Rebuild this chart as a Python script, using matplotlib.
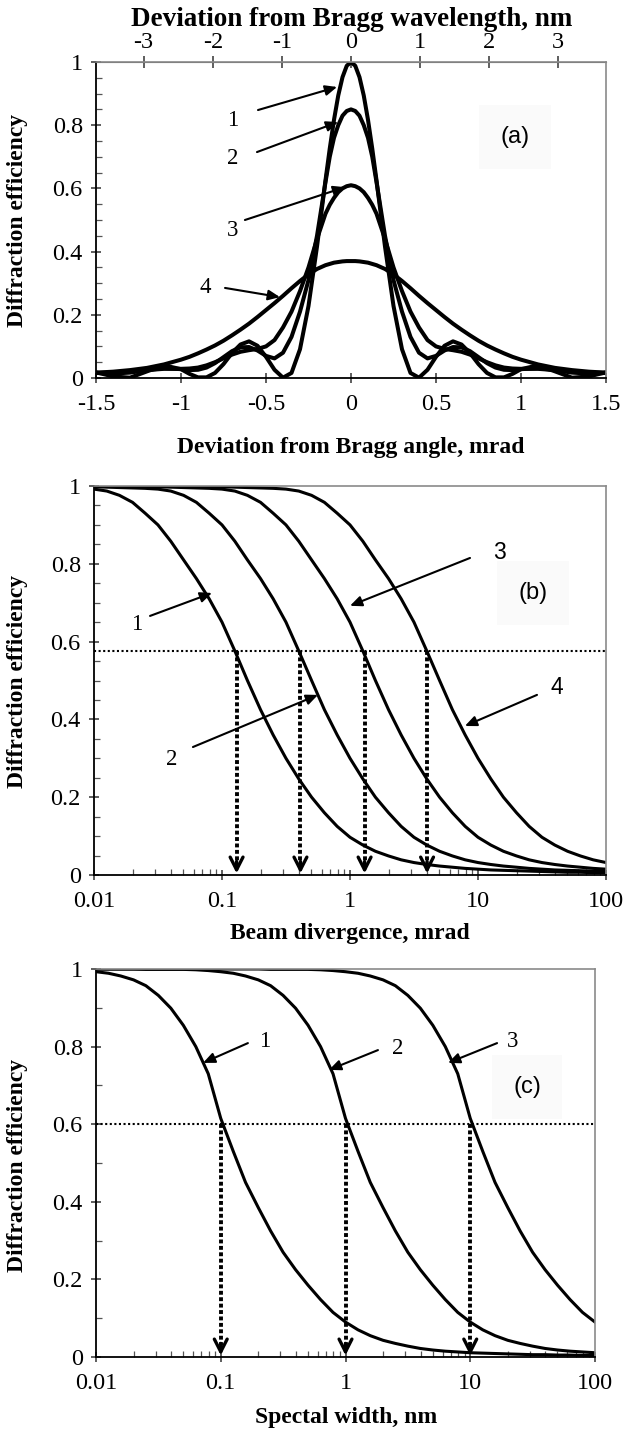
import numpy as np
import matplotlib
matplotlib.use('Agg')
import matplotlib.pyplot as plt
from matplotlib.ticker import FixedLocator, NullFormatter, LogLocator

plt.rcParams['font.family'] = ['Liberation Serif', 'DejaVu Serif']

# ---------------- data ----------------
# panel (a): angular selectivity, deviation from Bragg angle (mrad)
angle_mrad = [-1.5, -1.4, -1.3, -1.2, -1.1, -1.0, -0.95, -0.9, -0.85, -0.8, -0.75, -0.7, -0.65,
              -0.6, -0.55, -0.5, -0.45, -0.4, -0.35, -0.3, -0.25, -0.2, -0.175, -0.15, -0.125,
              -0.1, -0.075, -0.05, -0.025, 0.0,
              0.025, 0.05, 0.075, 0.1, 0.125, 0.15, 0.175, 0.2, 0.25, 0.3, 0.35, 0.4, 0.45, 0.5,
              0.55, 0.6, 0.65, 0.7, 0.75, 0.8, 0.85, 0.9, 0.95, 1.0, 1.1, 1.2, 1.3, 1.4, 1.5]
eff_a1 = [0.018, 0.005, 0.001, 0.021, 0.040, 0.028, 0.013, 0.002, 0.002, 0.016, 0.044, 0.079, 0.106,
          0.116, 0.102, 0.067, 0.026, 0.001, 0.016, 0.091, 0.228, 0.416, 0.520, 0.626, 0.726,
          0.817, 0.894, 0.952, 0.988, 1.0,
          0.988, 0.952, 0.894, 0.817, 0.726, 0.626, 0.520, 0.416, 0.228, 0.091, 0.016, 0.001,
          0.026, 0.067, 0.102, 0.116, 0.106, 0.079, 0.044, 0.016, 0.002, 0.002, 0.013, 0.028,
          0.040, 0.021, 0.001, 0.005, 0.018]
eff_a2 = [0.016, 0.014, 0.017, 0.025, 0.031, 0.028, 0.025, 0.026, 0.033, 0.047, 0.066, 0.085, 0.097,
          0.098, 0.087, 0.07, 0.062, 0.08, 0.13, 0.21, 0.31, 0.45, 0.535, 0.62, 0.70,
          0.76, 0.80, 0.83, 0.845, 0.85,
          0.845, 0.83, 0.80, 0.76, 0.70, 0.62, 0.535, 0.45, 0.31, 0.21, 0.13, 0.08, 0.062, 0.07,
          0.087, 0.098, 0.097, 0.085, 0.066, 0.047, 0.033, 0.026, 0.025, 0.028, 0.031, 0.025,
          0.017, 0.014, 0.016]
eff_a3 = [0.016, 0.017, 0.02, 0.025, 0.029, 0.029, 0.03, 0.033, 0.04, 0.05, 0.062, 0.074, 0.083,
          0.088, 0.092, 0.10, 0.12, 0.16, 0.21, 0.275, 0.35, 0.44, 0.48, 0.52, 0.548,
          0.57, 0.588, 0.60, 0.607, 0.61,
          0.607, 0.60, 0.588, 0.57, 0.548, 0.52, 0.48, 0.44, 0.35, 0.275, 0.21, 0.16, 0.12, 0.10,
          0.092, 0.088, 0.083, 0.074, 0.062, 0.05, 0.04, 0.033, 0.03, 0.029, 0.029, 0.025, 0.02,
          0.017, 0.016]
eff_a4 = [0.017, 0.02, 0.025, 0.032, 0.043, 0.058, 0.067, 0.078, 0.09, 0.103, 0.118, 0.135, 0.153,
          0.172, 0.193, 0.215, 0.237, 0.26, 0.284, 0.307, 0.328, 0.345, 0.351, 0.357, 0.361,
          0.365, 0.367, 0.369, 0.370, 0.37,
          0.370, 0.369, 0.367, 0.365, 0.361, 0.357, 0.351, 0.345, 0.328, 0.307, 0.284, 0.26,
          0.237, 0.215, 0.193, 0.172, 0.153, 0.135, 0.118, 0.103, 0.09, 0.078, 0.067, 0.058,
          0.043, 0.032, 0.025, 0.02, 0.017]
top_ticks_nm = [-3, -2, -1, 0, 1, 2, 3]
nm_per_mrad = 2.46

# common log grid for panels (b) and (c)
x_log = [0.01, 0.0126, 0.0158, 0.02, 0.0251, 0.0316, 0.0398, 0.0501, 0.0631, 0.0794,
         0.1, 0.126, 0.158, 0.2, 0.251, 0.316, 0.398, 0.501, 0.631, 0.794,
         1.0, 1.26, 1.58, 2.0, 2.51, 3.16, 3.98, 5.01, 6.31, 7.94,
         10.0, 12.6, 15.8, 20.0, 25.1, 31.6, 39.8, 50.1, 63.1, 79.4, 100.0]

# panel (b): beam divergence (mrad)
eff_b1 = [0.992, 0.987, 0.976, 0.958, 0.93, 0.90, 0.858, 0.81, 0.762, 0.71, 0.65, 0.576, 0.50, 0.425,
          0.36, 0.30, 0.247, 0.20, 0.16, 0.125, 0.097, 0.077, 0.061, 0.049, 0.039, 0.032, 0.027,
          0.023, 0.020, 0.017, 0.015, 0.013, 0.012, 0.011, 0.010, 0.009, 0.008, 0.007, 0.007,
          0.006, 0.006]
eff_b2 = [0.998, 0.997, 0.996, 0.995, 0.994, 0.992, 0.987, 0.976, 0.958, 0.93, 0.90, 0.858, 0.81,
          0.762, 0.71, 0.65, 0.576, 0.50, 0.425, 0.36, 0.30, 0.247, 0.20, 0.16, 0.125, 0.097,
          0.077, 0.061, 0.049, 0.039, 0.032, 0.027, 0.023, 0.020, 0.017, 0.015, 0.013, 0.012,
          0.011, 0.010, 0.009]
eff_b3 = [1.0, 1.0, 0.999, 0.999, 0.998, 0.998, 0.997, 0.996, 0.995, 0.994, 0.992, 0.987, 0.976,
          0.958, 0.93, 0.90, 0.858, 0.81, 0.762, 0.71, 0.65, 0.576, 0.50, 0.425, 0.36, 0.30,
          0.247, 0.20, 0.16, 0.125, 0.097, 0.077, 0.061, 0.049, 0.039, 0.032, 0.027, 0.023,
          0.020, 0.017, 0.015]
eff_b4 = [1.0, 1.0, 1.0, 1.0, 1.0, 1.0, 1.0, 0.999, 0.999, 0.998, 0.998, 0.997, 0.996, 0.995,
          0.994, 0.992, 0.987, 0.976, 0.958, 0.93, 0.90, 0.858, 0.81, 0.762, 0.71, 0.65, 0.576,
          0.50, 0.425, 0.36, 0.30, 0.247, 0.20, 0.16, 0.125, 0.097, 0.077, 0.061, 0.049, 0.039,
          0.032]
level_b = 0.576
marks_b = [0.13, 0.41, 1.3, 4.0]

# panel (c): spectral width (nm)
eff_c1 = [0.993, 0.989, 0.982, 0.972, 0.957, 0.932, 0.899, 0.855, 0.80, 0.73, 0.615, 0.53, 0.45,
          0.385, 0.325, 0.27, 0.225, 0.185, 0.148, 0.115, 0.09, 0.07, 0.055, 0.043, 0.035, 0.028,
          0.022, 0.018, 0.015, 0.013, 0.011, 0.010, 0.009, 0.008, 0.007, 0.006, 0.006, 0.005,
          0.005, 0.004, 0.004]
eff_c2 = [1.0, 1.0, 1.0, 1.0, 0.999, 0.999, 0.999, 0.999, 0.998, 0.996, 0.993, 0.989, 0.982,
          0.972, 0.957, 0.932, 0.899, 0.855, 0.80, 0.73, 0.615, 0.53, 0.45, 0.385, 0.325, 0.27,
          0.225, 0.185, 0.148, 0.115, 0.09, 0.07, 0.055, 0.043, 0.035, 0.028, 0.022, 0.018,
          0.015, 0.013, 0.011]
eff_c3 = [1.0, 1.0, 1.0, 1.0, 1.0, 1.0, 1.0, 1.0, 1.0, 1.0, 1.0, 1.0, 1.0, 1.0, 0.999, 0.999,
          0.999, 0.999, 0.998, 0.996, 0.993, 0.989, 0.982, 0.972, 0.957, 0.932, 0.899, 0.855,
          0.80, 0.73, 0.615, 0.53, 0.45, 0.385, 0.325, 0.27, 0.225, 0.185, 0.148, 0.115, 0.09]
level_c = 0.6
marks_c = [0.1, 1.0, 10.0]

y_ticks = [0, 0.2, 0.4, 0.6, 0.8, 1.0]
y_ticklabels = ['0', '0.2', '0.4', '0.6', '0.8', '1']
xa_ticks = [-1.5, -1, -0.5, 0, 0.5, 1, 1.5]
xa_ticklabels = ['-1.5', '-1', '-0.5', '0', '0.5', '1', '1.5']
xlog_ticks = [0.01, 0.1, 1, 10, 100]
xlog_ticklabels = ['0.01', '0.1', '1', '10', '100']

# ---------------- figure ----------------
W, H = 625, 1434
fig = plt.figure(figsize=(W / 100, H / 100), dpi=100)
SANS = 'Liberation Sans'
TICK_FS = 17.5
LAB_FS = 17


def axes_px(l, t, r, b):
    return fig.add_axes([l / W, 1 - b / H, (r - l) / W, (b - t) / H])


def style(ax, yminor):
    for s in ['left', 'bottom']:
        ax.spines[s].set_color('black')
        ax.spines[s].set_linewidth(1.3)
    for s in ['top', 'right']:
        ax.spines[s].set_color('#8a8a8a')
        ax.spines[s].set_linewidth(1.2)
    ax.set_ylim(0, 1)
    ax.yaxis.set_major_locator(FixedLocator(y_ticks))
    ax.set_yticklabels(y_ticklabels)
    ax.yaxis.set_minor_locator(FixedLocator(list(np.arange(0, 1.0001, yminor))))
    ax.tick_params(which='major', direction='inout', length=7, width=1.1,
                   labelsize=TICK_FS, top=False, right=False, color='#333333')
    ax.tick_params(which='minor', direction='in', length=4, width=0.9,
                   top=False, right=False, color='#555555')
    ax.tick_params(axis='x', which='major', pad=8)
    ax.tick_params(axis='y', which='major', pad=6)


def label_arrow(ax, txt, txt_xy, start, tip, family=None, fs=16.5):
    kw = {}
    if family:
        kw['family'] = family
    ax.text(txt_xy[0], txt_xy[1], txt, ha='center', va='center', fontsize=fs, **kw)
    ax.annotate('', xy=tip, xytext=start,
                arrowprops=dict(arrowstyle='-|>,head_length=0.5,head_width=0.22',
                                lw=1.5, color='k', shrinkA=0, shrinkB=0, mutation_scale=14))


def drop_arrows(ax, xs, level):
    ax.axhline(level, color='k', lw=1.5, ls=(0, (1, 1.2)))
    for x in xs:
        ax.plot([x, x], [level, 0.03], color='k', lw=2.8, ls=(0, (1, 0.65)))
        ax.annotate('', xy=(x, 0.004), xytext=(x, 0.035),
                    arrowprops=dict(arrowstyle='->,head_length=0.65,head_width=0.33',
                                    lw=2.4, color='k', shrinkA=0, shrinkB=0, mutation_scale=14))


def panel_tag(ax, txt, x, y):
    ax.text(x, y, txt, ha='center', va='center', family=SANS, fontsize=17,
            bbox=dict(boxstyle='square,pad=0.9', fc='#fafafa', ec='none'))


# ----- panel (a) -----
axa = axes_px(96, 62, 606, 378)
style(axa, 0.05)
for y in (eff_a4, eff_a3, eff_a2, eff_a1):
    axa.plot(angle_mrad, y, color='k', lw=2.9, solid_joinstyle='round')
axa.set_xlim(-1.5, 1.5)
axa.xaxis.set_major_locator(FixedLocator(xa_ticks))
axa.set_xticklabels(xa_ticklabels)
sec = axa.secondary_xaxis('top', functions=(lambda v: v * nm_per_mrad, lambda v: v / nm_per_mrad))
sec.xaxis.set_major_locator(FixedLocator(top_ticks_nm))
sec.set_xticklabels([str(t) for t in top_ticks_nm])
sec.tick_params(direction='inout', length=9, width=1.1, labelsize=TICK_FS, pad=2, color='#333333')
sec.spines['top'].set_color('#555555')
panel_tag(axa, '(a)', 0.965, 0.763)
label_arrow(axa, '1', (-0.694, 0.816), (-0.547, 0.848), (-0.082, 0.921))
label_arrow(axa, '2', (-0.694, 0.696), (-0.553, 0.715), (-0.076, 0.810))
label_arrow(axa, '3', (-0.694, 0.468), (-0.624, 0.500), (-0.035, 0.604))
label_arrow(axa, '4', (-0.859, 0.285), (-0.741, 0.285), (-0.418, 0.256))

# ----- panel (b) -----
axb = axes_px(94, 486, 606, 875)
axb.set_xscale('log')
style(axb, 0.05)
for y in (eff_b1, eff_b2, eff_b3, eff_b4):
    axb.plot(x_log, y, color='k', lw=2.2)
axb.set_xlim(0.01, 100)
drop_arrows(axb, marks_b, level_b)
panel_tag(axb, '(b)', 26.9, 0.725)
label_arrow(axb, '1', (0.0217, 0.643), (0.0274, 0.666), (0.0835, 0.725))
label_arrow(axb, '2', (0.0407, 0.296), (0.0593, 0.329), (0.562, 0.463))
label_arrow(axb, '3', (14.6, 0.830), (8.66, 0.815), (1.0, 0.692), family=SANS)
label_arrow(axb, '4', (41.4, 0.483), (28.9, 0.463), (7.9, 0.383), family=SANS)

# ----- panel (c) -----
axc = axes_px(96, 969, 595, 1357)
axc.set_xscale('log')
style(axc, 0.1)
for y in (eff_c1, eff_c2, eff_c3):
    axc.plot(x_log, y, color='k', lw=2.2)
axc.set_xlim(0.01, 100)
drop_arrows(axc, marks_c, level_c)
panel_tag(axc, '(c)', 28.5, 0.696)
label_arrow(axc, '1', (0.226, 0.812), (0.165, 0.809), (0.0721, 0.758))
label_arrow(axc, '2', (2.64, 0.796), (1.82, 0.791), (0.738, 0.740))
label_arrow(axc, '3', (22.0, 0.812), (16.4, 0.809), (6.64, 0.758))

for ax in (axb, axc):
    ax.xaxis.set_major_locator(FixedLocator(xlog_ticks))
    ax.set_xticklabels(xlog_ticklabels)
    ax.xaxis.set_minor_locator(LogLocator(base=10, subs=np.arange(2, 10)))
    ax.xaxis.set_minor_formatter(NullFormatter())
    ax.tick_params(which='minor', direction='in', length=4, width=0.9, color='#555555')


# ----- axis labels -----
def ftext(px, py, s, **kw):
    fig.text(px / W, 1 - py / H, s, ha='center', va='center', fontweight='bold', **kw)


ftext(352, 19, 'Deviation from Bragg wavelength, nm', fontsize=19.5)
ftext(351, 447, 'Deviation from Bragg angle, mrad', fontsize=LAB_FS)
ftext(350, 933, 'Beam divergence, mrad', fontsize=LAB_FS)
ftext(346, 1417, 'Spectal width, nm', fontsize=LAB_FS)
ftext(18, 220, 'Diffraction efficiency', fontsize=LAB_FS, rotation=90)
ftext(18, 681, 'Diffraction efficiency', fontsize=LAB_FS, rotation=90)
ftext(18, 1165, 'Diffraction efficiency', fontsize=LAB_FS, rotation=90)

fig.savefig('out.png', dpi=100)
